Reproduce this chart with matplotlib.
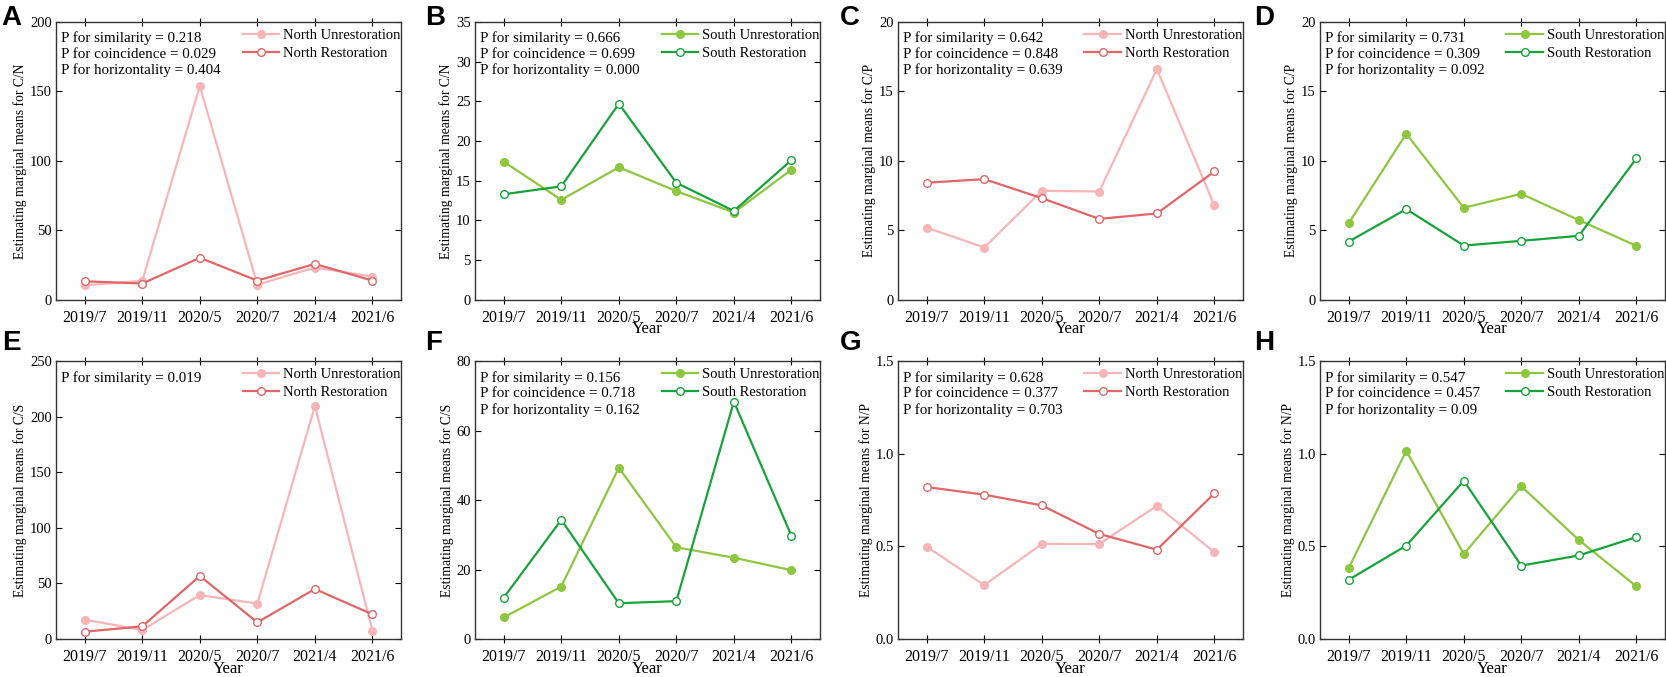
import numpy as np
import matplotlib.pyplot as plt

plt.rcParams['font.family'] = ['Liberation Serif', 'DejaVu Serif']

years = ["2019/7", "2019/11", "2020/5", "2020/7", "2021/4", "2021/6"]

# panel A - C/N north
a_unrest = [10.6, 13.7, 153.9, 11.0, 23.3, 16.8]
a_rest = [13.4, 11.8, 30.3, 13.9, 25.9, 13.9]
# panel B - C/N south
b_unrest = [17.4, 12.6, 16.7, 13.7, 11.0, 16.4]
b_rest = [13.3, 14.3, 24.7, 14.75, 11.2, 17.6]
# panel C - C/P north
c_unrest = [5.2, 3.77, 7.85, 7.8, 16.6, 6.8]
c_rest = [8.43, 8.69, 7.32, 5.83, 6.22, 9.24]
# panel D - C/P south
d_unrest = [5.52, 11.96, 6.63, 7.63, 5.74, 3.89]
d_rest = [4.2, 6.53, 3.91, 4.25, 4.61, 10.18]
# panel E - C/S north
e_unrest = [17.4, 8.1, 39.6, 31.8, 209.5, 7.5]
e_rest = [6.6, 11.4, 56.7, 15.0, 45.0, 22.2]
# panel F - C/S south
f_unrest = [6.2, 15.1, 49.3, 26.4, 23.4, 19.8]
f_rest = [11.9, 34.3, 10.3, 10.9, 68.3, 29.7]
# panel G - N/P north
g_unrest = [0.498, 0.291, 0.513, 0.513, 0.719, 0.469]
g_rest = [0.82, 0.779, 0.721, 0.567, 0.482, 0.786]
# panel H - N/P south
h_unrest = [0.383, 1.016, 0.459, 0.824, 0.534, 0.284]
h_rest = [0.32, 0.504, 0.854, 0.396, 0.451, 0.55]

north_cols = ("#F7B5B8", "#E06668")
south_cols = ("#8DC63F", "#17A33B")

panels = [
    ("A", a_unrest, a_rest, "North", "C/N", 200, 50, ["P for similarity = 0.218", "P for coincidence = 0.029", "P for horizontality = 0.404"], False),
    ("B", b_unrest, b_rest, "South", "C/N", 35, 5, ["P for similarity = 0.666", "P for coincidence = 0.699", "P for horizontality = 0.000"], True),
    ("C", c_unrest, c_rest, "North", "C/P", 20, 5, ["P for similarity = 0.642", "P for coincidence = 0.848", "P for horizontality = 0.639"], True),
    ("D", d_unrest, d_rest, "South", "C/P", 20, 5, ["P for similarity = 0.731", "P for coincidence = 0.309", "P for horizontality = 0.092"], True),
    ("E", e_unrest, e_rest, "North", "C/S", 250, 50, ["P for similarity = 0.019"], True),
    ("F", f_unrest, f_rest, "South", "C/S", 80, 20, ["P for similarity = 0.156", "P for coincidence = 0.718", "P for horizontality = 0.162"], True),
    ("G", g_unrest, g_rest, "North", "N/P", 1.5, 0.5, ["P for similarity = 0.628", "P for coincidence = 0.377", "P for horizontality = 0.703"], True),
    ("H", h_unrest, h_rest, "South", "N/P", 1.5, 0.5, ["P for similarity = 0.547", "P for coincidence = 0.457", "P for horizontality = 0.09"], True),
]

fig = plt.figure(figsize=(16.66, 6.77), dpi=100)

lefts = [0.0336, 0.2851, 0.539, 0.7923]
bottoms = [0.557, 0.0561]
w, h = 0.2072, 0.4106
letter_x = [0.001, 0.255, 0.504, 0.753]
letter_y = [0.963, 0.483]

x = np.arange(len(years))

for i, (letter, unrest, rest, region, ratio, ymax, step, ptxt, show_year) in enumerate(panels):
    row, col = divmod(i, 4)
    ax = fig.add_axes([lefts[col], bottoms[row], w, h])
    cols = north_cols if region == "North" else south_cols

    ax.plot(x, unrest, color=cols[0], lw=1.6, marker="o", ms=5.5,
            mfc=cols[0], mec=cols[0], label=region + " Unrestoration")
    ax.plot(x, rest, color=cols[1], lw=1.6, marker="o", ms=5.5,
            mfc="white", mec=cols[1], label=region + " Restoration")

    ax.set_xlim(-0.5, 5.5)
    ax.set_ylim(0, ymax)
    yt = np.arange(0, ymax + step / 2, step)
    ax.set_yticks(yt)
    if step < 1:
        ax.set_yticklabels(["%.1f" % v for v in yt])
    ax.set_xticks(x)
    ax.set_xticklabels(years, fontsize=11.5)
    ax.tick_params(axis="y", labelsize=10.5, direction="in", length=4, right=True, pad=3)
    ax.tick_params(axis="x", direction="inout", length=6, top=True, pad=4)
    for sp in ax.spines.values():
        sp.set_color("#333333")
        sp.set_linewidth(1.0)

    ax.set_ylabel("Estimating marginal means for " + ratio, fontsize=9.8, labelpad=2)
    if show_year:
        ax.set_xlabel("Year", fontsize=12, labelpad=-3)

    ax.text(0.015, 0.965, "\n".join(ptxt), transform=ax.transAxes, va="top",
            ha="left", fontsize=10.8, linespacing=1.25)
    ax.legend(loc="upper right", bbox_to_anchor=(1.005, 0.985), frameon=False,
              fontsize=10.5, handlelength=2.5, handletextpad=0.25,
              labelspacing=0.3, borderpad=0.2, borderaxespad=0.0)

    fig.text(letter_x[col], letter_y[row], letter, fontsize=20, fontweight="bold",
             family="Liberation Sans", va="baseline", ha="left")

plt.savefig("out.png", dpi=100)
